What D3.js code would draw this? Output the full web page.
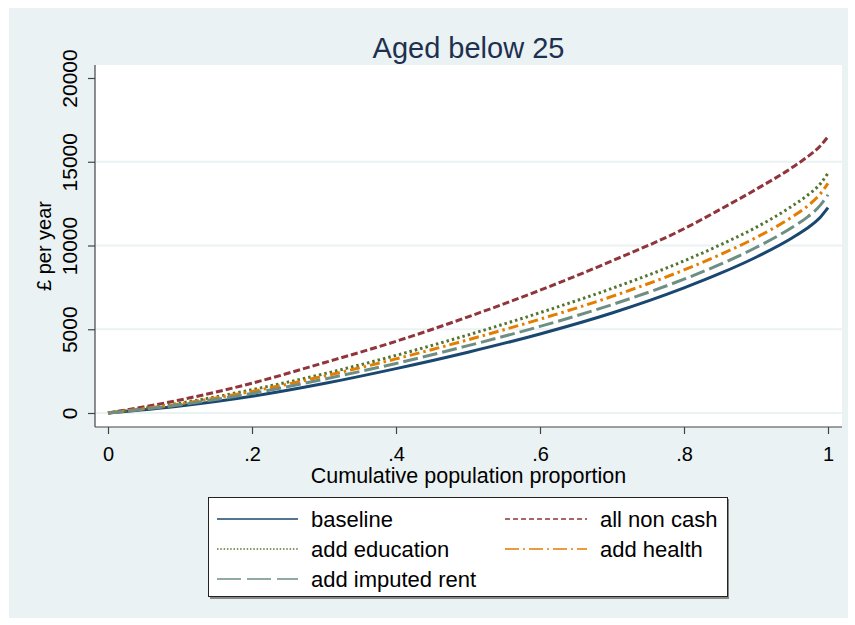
<!DOCTYPE html>
<html>
<head>
<meta charset="utf-8">
<script src="https://cdn.jsdelivr.net/npm/d3@7"></script>
<style>
  body { margin: 0; background: #fff; }
  text { font-family: "Liberation Sans", Arial, sans-serif; }
</style>
</head>
<body>
<div id="chart"></div>
<script>
// cumulative population proportion (x) and £ per year values per series
const props = [0, 0.1, 0.2, 0.3, 0.4, 0.5, 0.6, 0.7, 0.8, 0.85, 0.9, 0.95, 0.97, 0.99, 1];
const baseline = [0, 420, 1000, 1760, 2650, 3630, 4720, 5970, 7470, 8330, 9300, 10450, 11000, 11720, 12260];
const allNonCash = [0, 780, 1780, 3000, 4280, 5740, 7330, 9080, 11000, 12150, 13350, 14650, 15250, 15980, 16500];
const addEducation = [0, 590, 1390, 2340, 3440, 4660, 5990, 7440, 9080, 10030, 11080, 12350, 12950, 13720, 14320];
const addHealth = [0, 550, 1290, 2200, 3230, 4370, 5600, 6960, 8540, 9450, 10470, 11700, 12300, 13120, 13710];
const addImputedRent = [0, 490, 1170, 2020, 2960, 4020, 5170, 6470, 7990, 8870, 9880, 11080, 11650, 12440, 13030];

const seriesNames = ["baseline", "all non cash", "add education", "add health", "add imputed rent"];
const xTicks = [0, 0.2, 0.4, 0.6, 0.8, 1];
const xTickLabels = ["0", ".2", ".4", ".6", ".8", "1"];
const yTicks = [0, 5000, 10000, 15000, 20000];
const gridValues = [0, 5000, 10000, 15000];

const styles = [
    { color: "#1a476f", dash: null, legendDash: null },
    { color: "#90353b", dash: "7,3", legendDash: "5,3" },
    { color: "#55752f", dash: "2.5,3", legendDash: "1.5,1.8" },
    { color: "#e37e00", dash: "10,4,2.5,4", legendDash: "14,4,2,4" },
    { color: "#6e8e84", dash: "15,5", legendDash: "24,6" }
];

const series = [baseline, allNonCash, addEducation, addHealth, addImputedRent].map((vals, i) => ({
    name: seriesNames[i],
    values: vals.map((v, j) => ({ p: props[j], v: v })),
    style: styles[i]
}));

const width = 855, height = 625;
const plot = { left: 95, top: 65, right: 842, bottom: 427 };

const svg = d3.select("#chart").append("svg")
    .attr("width", width)
    .attr("height", height);

// graph region
svg.append("rect")
    .attr("x", 9).attr("y", 8)
    .attr("width", 839).attr("height", 610)
    .attr("fill", "#eaf2f3");

svg.append("rect")
    .attr("x", plot.left).attr("y", plot.top)
    .attr("width", plot.right - plot.left).attr("height", plot.bottom - plot.top)
    .attr("fill", "#fff");

const x = d3.scaleLinear().domain([0, 1]).range([108, 828]);
const y = d3.scaleLinear().domain([0, 20000]).range([413, 78]);

// gridlines
svg.append("g").selectAll("line").data(gridValues).enter().append("line")
    .attr("x1", plot.left + 1).attr("x2", plot.right)
    .attr("y1", d => y(d)).attr("y2", d => y(d))
    .attr("stroke", "#eaf2f3")
    .attr("stroke-width", 2);

// axes
const yAxis = svg.append("g")
    .attr("transform", `translate(${plot.left},0)`)
    .call(d3.axisLeft(y).tickValues(yTicks).tickSize(7).tickSizeOuter(0).tickFormat(d3.format("d")));
yAxis.select(".domain").remove();
yAxis.selectAll(".tick line").attr("stroke", "#444").attr("stroke-width", 1.2);
yAxis.selectAll(".tick text")
    .attr("x", null).attr("dy", null)
    .attr("transform", "translate(-18,0) rotate(-90)")
    .attr("text-anchor", "middle")
    .style("font-size", "21px")
    .attr("fill", "#000");

const xAxis = svg.append("g")
    .attr("transform", `translate(0,${plot.bottom})`)
    .call(d3.axisBottom(x).tickValues(xTicks).tickSize(7).tickSizeOuter(0)
        .tickFormat((d, i) => xTickLabels[i]));
xAxis.select(".domain").remove();
xAxis.selectAll(".tick line").attr("stroke", "#444").attr("stroke-width", 1.2);
xAxis.selectAll(".tick text")
    .attr("y", 34).attr("dy", null)
    .style("font-size", "20px")
    .attr("fill", "#000");

svg.append("line")
    .attr("x1", plot.left).attr("x2", plot.left)
    .attr("y1", plot.top).attr("y2", plot.bottom)
    .attr("stroke", "#444").attr("stroke-width", 1.2);
svg.append("line")
    .attr("x1", plot.left).attr("x2", plot.right)
    .attr("y1", plot.bottom).attr("y2", plot.bottom)
    .attr("stroke", "#444").attr("stroke-width", 1.2);

// series lines
const line = d3.line()
    .x(d => x(d.p))
    .y(d => y(d.v))
    .curve(d3.curveMonotoneX);

svg.append("g").selectAll("path").data(series).enter().append("path")
    .attr("d", d => line(d.values))
    .attr("fill", "none")
    .attr("stroke", d => d.style.color)
    .attr("stroke-width", 3)
    .attr("stroke-dasharray", d => d.style.dash);

// titles
svg.append("text")
    .attr("x", (plot.left + plot.right) / 2).attr("y", 58)
    .attr("text-anchor", "middle")
    .style("font-size", "29px")
    .attr("fill", "#1e3050")
    .text("Aged below 25");

svg.append("text")
    .attr("x", (plot.left + plot.right) / 2).attr("y", 483)
    .attr("text-anchor", "middle")
    .style("font-size", "21.5px")
    .text("Cumulative population proportion");

svg.append("text")
    .attr("transform", `translate(51,${(plot.top + plot.bottom) / 2}) rotate(-90)`)
    .attr("text-anchor", "middle")
    .style("font-size", "20px")
    .text("£ per year");

// legend
const legend = svg.append("g");
legend.append("rect")
    .attr("x", 210).attr("y", 499)
    .attr("width", 519).attr("height", 100)
    .attr("fill", "#888");
legend.append("rect")
    .attr("x", 208.5).attr("y", 497.5)
    .attr("width", 519).attr("height", 99)
    .attr("fill", "#fff")
    .attr("stroke", "#222")
    .attr("stroke-width", 1);

const cols = [{ x1: 217, x2: 298, tx: 311 }, { x1: 505, x2: 587, tx: 600 }];
const rows = [519, 549, 579];

const items = legend.selectAll("g.item").data(series).enter().append("g")
    .attr("class", "item")
    .attr("transform", (d, i) => `translate(0,${rows[Math.floor(i / 2)]})`);

items.append("line")
    .attr("x1", (d, i) => cols[i % 2].x1)
    .attr("x2", (d, i) => cols[i % 2].x2)
    .attr("stroke", d => d.style.color)
    .attr("stroke-width", 1.6)
    .attr("stroke-dasharray", d => d.style.legendDash);

items.append("text")
    .attr("x", (d, i) => cols[i % 2].tx)
    .attr("dy", "0.35em")
    .style("font-size", "22px")
    .text(d => d.name);
</script>
</body>
</html>
